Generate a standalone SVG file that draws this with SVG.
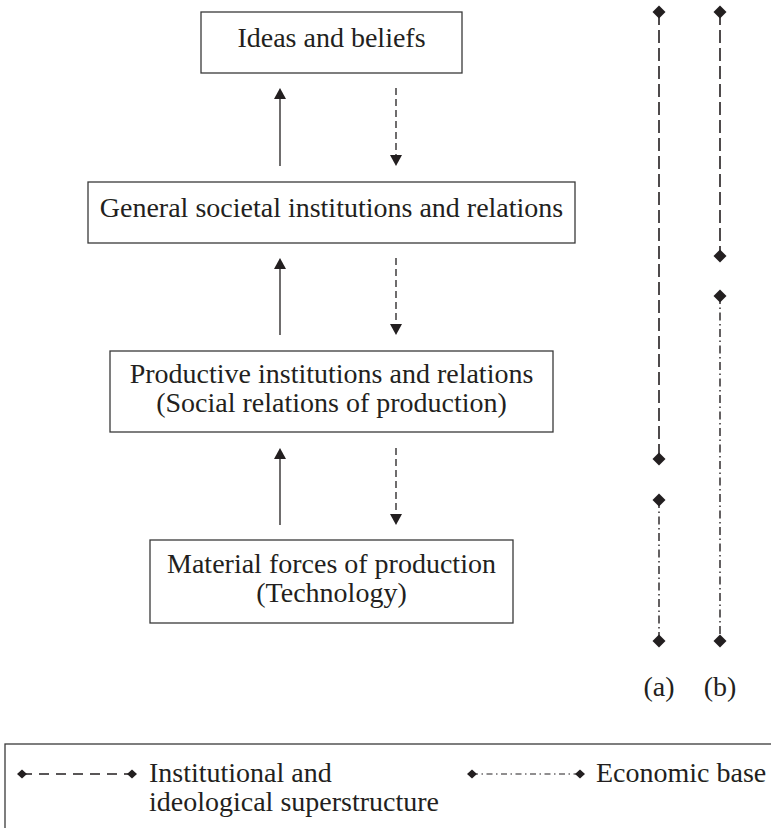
<svg xmlns="http://www.w3.org/2000/svg" width="771" height="828" viewBox="0 0 771 828">
<style>
text{font-family:"Liberation Serif","Times New Roman",serif;font-size:28px;fill:#231f20}
.c{text-anchor:middle}
.box{fill:#fff;stroke:#3a3a3a;stroke-width:1.3}
.solid{stroke:#231f20;stroke-width:1.3;fill:none}
.dash{stroke:#231f20;stroke-width:1.3;fill:none;stroke-dasharray:7 4}
.cdash{stroke:#231f20;stroke-width:1.6;fill:none;stroke-dasharray:13 5}
.cdot{stroke:#231f20;stroke-width:1.4;fill:none;stroke-dasharray:8 3.5 1.5 3.5}
.ldash{stroke:#231f20;stroke-width:1.4;fill:none;stroke-dasharray:10 7}
.ldot{stroke:#231f20;stroke-width:1.2;fill:none;stroke-dasharray:6 3.5 1.5 3.5}
.dia{fill:#231f20}
</style>
<defs>
<path id="d" d="M0,-6.5 L6.5,0 L0,6.5 L-6.5,0 Z"/>
<path id="ds" d="M0,-4.5 L5,0 L0,4.5 L-5,0 Z"/>
<path id="up" d="M-6,11 L0,0 L6,11 Z"/>
<path id="dn" d="M-6,-11 L0,0 L6,-11 Z"/>
</defs>
<g id="node-ideas">
<rect class="box" x="201" y="12" width="261" height="61"/>
<text class="c" x="331.5" y="47">Ideas and beliefs</text>
</g>
<g id="node-general">
<rect class="box" x="88" y="182" width="487" height="61"/>
<text class="c" x="331.5" y="217">General societal institutions and relations</text>
</g>
<g id="node-productive">
<rect class="box" x="110" y="351" width="443" height="81"/>
<text class="c" x="331.5" y="383">Productive institutions and relations</text>
<text class="c" x="331.5" y="412">(Social relations of production)</text>
</g>
<g id="node-material">
<rect class="box" x="150" y="540" width="363" height="83"/>
<text class="c" x="331.5" y="573">Material forces of production</text>
<text class="c" x="331.5" y="602">(Technology)</text>
</g>
<g id="connectors">
<line class="solid" x1="280" y1="166" x2="280" y2="96"/>
<use href="#up" x="280" y="88" class="dia"/>
<line class="dash" x1="396" y1="88" x2="396" y2="156"/>
<use href="#dn" x="396" y="166" class="dia"/>
<line class="solid" x1="280" y1="335" x2="280" y2="266"/>
<use href="#up" x="280" y="258" class="dia"/>
<line class="dash" x1="396" y1="258" x2="396" y2="325"/>
<use href="#dn" x="396" y="335" class="dia"/>
<line class="solid" x1="280" y1="525" x2="280" y2="456"/>
<use href="#up" x="280" y="448" class="dia"/>
<line class="dash" x1="396" y1="448" x2="396" y2="515"/>
<use href="#dn" x="396" y="525" class="dia"/>
</g>
<g id="column-a">
<line class="cdash" x1="659" y1="12" x2="659" y2="459"/>
<use href="#d" x="659" y="12" class="dia"/>
<use href="#d" x="659" y="459" class="dia"/>
<line class="cdot" x1="659" y1="500" x2="659" y2="641"/>
<use href="#d" x="659" y="500" class="dia"/>
<use href="#d" x="659" y="641" class="dia"/>
<text class="c" x="659" y="696">(a)</text>
</g>
<g id="column-b">
<line class="cdash" x1="720" y1="12" x2="720" y2="256"/>
<use href="#d" x="720" y="12" class="dia"/>
<use href="#d" x="720" y="256" class="dia"/>
<line class="cdot" x1="720" y1="296" x2="720" y2="641"/>
<use href="#d" x="720" y="296" class="dia"/>
<use href="#d" x="720" y="641" class="dia"/>
<text class="c" x="720" y="696">(b)</text>
</g>
<g id="legend">
<rect x="5" y="744" width="800" height="120" fill="none" stroke="#3a3a3a" stroke-width="1.3"/>
<line class="ldash" x1="22" y1="774" x2="132" y2="774"/>
<use href="#ds" x="22" y="774" class="dia"/>
<use href="#ds" x="132" y="774" class="dia"/>
<text x="149" y="782">Institutional and</text>
<text x="149" y="811">ideological superstructure</text>
<line class="ldot" x1="472" y1="774" x2="580" y2="774"/>
<use href="#ds" x="472" y="774" class="dia"/>
<use href="#ds" x="580" y="774" class="dia"/>
<text x="596" y="782">Economic base</text>
</g>
</svg>
